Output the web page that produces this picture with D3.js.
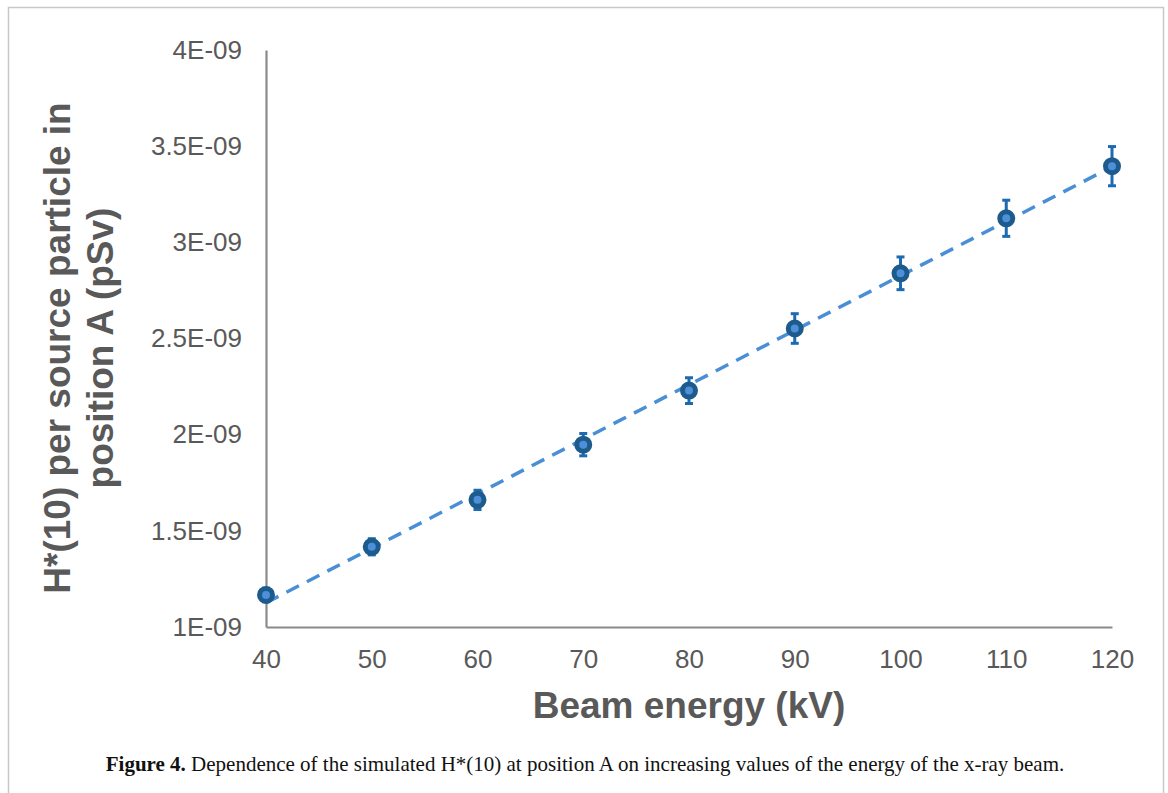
<!DOCTYPE html>
<html>
<head>
<meta charset="utf-8">
<script src="https://cdn.jsdelivr.net/npm/d3@7"></script>
<style>
  body { margin: 0; background: #fff; }
  svg { display: block; }
</style>
</head>
<body>
<svg id="chart" width="1168" height="793"></svg>
<script>
// beam energy (kV) and simulated H*(10) per source particle (pSv)
const energies = [40, 50, 60, 70, 80, 90, 100, 110, 120];
const doses = [1.167e-9, 1.417e-9, 1.661e-9, 1.948e-9, 2.229e-9, 2.552e-9, 2.839e-9, 3.125e-9, 3.396e-9];
const doseErrors = [0.035e-9, 0.042e-9, 0.05e-9, 0.058e-9, 0.067e-9, 0.077e-9, 0.085e-9, 0.094e-9, 0.102e-9];
const xTicks = [40, 50, 60, 70, 80, 90, 100, 110, 120];
const yTicks = [1e-9, 1.5e-9, 2e-9, 2.5e-9, 3e-9, 3.5e-9, 4e-9];
const yTickLabels = ["1E-09", "1.5E-09", "2E-09", "2.5E-09", "3E-09", "3.5E-09", "4E-09"];

const svg = d3.select("#chart");
const grey = "#595959";

// frame round the figure
svg.append("rect")
  .attr("x", 8.5).attr("y", 7.5)
  .attr("width", 1155).attr("height", 800)
  .attr("fill", "none").attr("stroke", "#c8c8c8").attr("stroke-width", 1.5);

const x = d3.scaleLinear().domain([40, 120]).range([266, 1112]);
const y = d3.scaleLinear().domain([1e-9, 4e-9]).range([627, 50]);

// axes
const xAxis = svg.append("g")
  .attr("transform", "translate(0,627)")
  .call(d3.axisBottom(x).tickValues(xTicks).tickSize(0).tickPadding(23));
const yAxis = svg.append("g")
  .attr("transform", "translate(266,0)")
  .call(d3.axisLeft(y).tickValues(yTicks).tickSize(0).tickPadding(24)
    .tickFormat((d, i) => yTickLabels[i]));

[xAxis, yAxis].forEach(a => {
  a.select(".domain").attr("stroke", "#8a8a8a").attr("stroke-width", 2.2);
  a.selectAll("text")
    .attr("fill", grey)
    .style("font-family", "Liberation Sans, Arial, sans-serif")
    .style("font-size", "26px");
});

// linear trend line (least squares)
const mx = d3.mean(energies), my = d3.mean(doses);
let sxy = 0, sxx = 0;
energies.forEach((e, i) => { sxy += (e - mx) * (doses[i] - my); sxx += (e - mx) * (e - mx); });
const slope = sxy / sxx, icpt = my - slope * mx;
svg.append("line")
  .attr("x1", x(40)).attr("y1", y(icpt + slope * 40))
  .attr("x2", x(120)).attr("y2", y(icpt + slope * 120))
  .attr("stroke", "#4a8fd6").attr("stroke-width", 3.5)
  .attr("stroke-dasharray", "14,9");

const pts = energies.map((e, i) => ({ e: e, v: doses[i], err: doseErrors[i] }));

// error bars
const eb = svg.append("g").attr("stroke", "#1c6ab2").attr("stroke-width", 3);
eb.selectAll(".bar").data(pts).enter().append("line")
  .attr("x1", d => x(d.e)).attr("x2", d => x(d.e))
  .attr("y1", d => y(d.v - d.err)).attr("y2", d => y(d.v + d.err));
eb.selectAll(".capTop").data(pts).enter().append("line")
  .attr("x1", d => x(d.e) - 4).attr("x2", d => x(d.e) + 4)
  .attr("y1", d => y(d.v + d.err)).attr("y2", d => y(d.v + d.err));
eb.selectAll(".capBot").data(pts).enter().append("line")
  .attr("x1", d => x(d.e) - 4).attr("x2", d => x(d.e) + 4)
  .attr("y1", d => y(d.v - d.err)).attr("y2", d => y(d.v - d.err));

// markers
svg.selectAll(".pt").data(pts).enter().append("circle")
  .attr("cx", d => x(d.e)).attr("cy", d => y(d.v))
  .attr("r", 6.5)
  .attr("fill", "#4d8fd8")
  .attr("stroke", "#1d5b8c").attr("stroke-width", 5);

// axis titles
svg.append("text")
  .attr("x", 689).attr("y", 718)
  .attr("text-anchor", "middle")
  .attr("fill", grey)
  .style("font-family", "Liberation Sans, Arial, sans-serif")
  .style("font-size", "37px").style("font-weight", "bold")
  .text("Beam energy (kV)");

const yt = svg.append("text")
  .attr("transform", "translate(0,348) rotate(-90)")
  .attr("text-anchor", "middle")
  .attr("fill", grey)
  .style("font-family", "Liberation Sans, Arial, sans-serif")
  .style("font-size", "37px").style("font-weight", "bold");
yt.append("tspan").attr("x", 0).attr("y", 70).text("H*(10) per source particle in");
yt.append("tspan").attr("x", 0).attr("y", 113).text("position A (pSv)");

// caption
const cap = svg.append("text")
  .attr("x", 585).attr("y", 771)
  .attr("text-anchor", "middle")
  .attr("fill", "#111")
  .style("font-family", "Liberation Serif, Times New Roman, serif")
  .style("font-size", "21px");
cap.append("tspan").style("font-weight", "bold").text("Figure 4.");
cap.append("tspan").text(" Dependence of the simulated H*(10) at position A on increasing values of the energy of the x-ray beam.");
</script>
</body>
</html>
